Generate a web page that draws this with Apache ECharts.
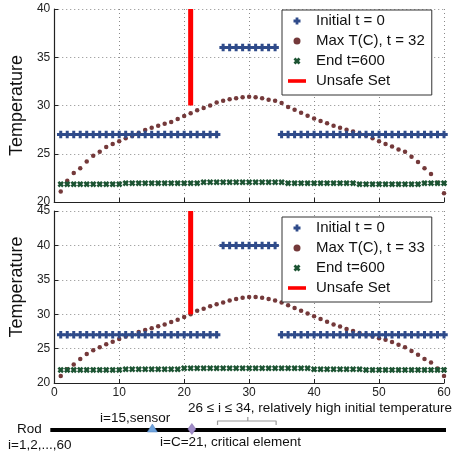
<!DOCTYPE html>
<html>
<head>
<meta charset="utf-8">
<script src="https://cdn.jsdelivr.net/npm/echarts@6/dist/echarts.min.js"></script>
<style>
  html, body { margin: 0; padding: 0; background: #fff; }
  #chart { width: 463px; height: 453px; }
</style>
</head>
<body>
<div id="chart"></div>
<script>
// rod element index i
const elements = [1, 2, 3, 4, 5, 6, 7, 8, 9, 10, 11, 12, 13, 14, 15, 16, 17, 18, 19, 20,
  21, 22, 23, 24, 25, 26, 27, 28, 29, 30, 31, 32, 33, 34, 35, 36, 37, 38, 39, 40,
  41, 42, 43, 44, 45, 46, 47, 48, 49, 50, 51, 52, 53, 54, 55, 56, 57, 58, 59, 60]

// upper panel (max at t = 32)
const initTop = [27, 27, 27, 27, 27, 27, 27, 27, 27, 27, 27, 27, 27, 27, 27, 27, 27, 27, 27, 27,
  27, 27, 27, 27, 27, 36, 36, 36, 36, 36, 36, 36, 36, 36, 27, 27, 27, 27, 27, 27,
  27, 27, 27, 27, 27, 27, 27, 27, 27, 27, 27, 27, 27, 27, 27, 27, 27, 27, 27, 27]
const maxTop = [21.1, 22.2, 23.0, 23.5, 24.2, 24.8, 25.2, 25.7, 26.0, 26.3,
  26.6, 26.85, 27.15, 27.45, 27.7, 27.9, 28.1, 28.3, 28.6, 28.9,
  29.2, 29.5, 29.75, 30.0, 30.3, 30.5, 30.65, 30.75, 30.85, 30.9,
  30.85, 30.75, 30.6, 30.5, 30.25, 29.85, 29.55, 29.25, 28.95, 28.65,
  28.4, 28.15, 27.9, 27.7, 27.5, 27.3, 27.1, 26.9, 26.6, 26.3,
  26.0, 25.75, 25.45, 25.2, 24.7, 24.15, 23.5, 22.9, 22.0, 20.9]
const endTop = [21.85, 21.85, 21.85, 21.85, 21.85, 21.85, 21.85, 21.85, 21.85, 21.85,
  21.95, 21.95, 21.95, 21.95, 21.95, 21.95, 21.95, 21.95, 21.95, 21.95,
  21.95, 21.95, 22.05, 22.05, 22.05, 22.05, 22.05, 22.05, 22.05, 22.05,
  22.05, 22.05, 22.05, 22.05, 22.05, 21.95, 21.95, 21.95, 21.95, 21.95,
  21.95, 21.95, 21.95, 21.95, 21.95, 21.95, 21.85, 21.85, 21.85, 21.85,
  21.85, 21.85, 21.85, 21.85, 21.85, 21.85, 21.95, 21.95, 21.95, 21.95]
const unsafeTop = [[21, 30], [21, 40]]

// lower panel (max at t = 33)
const initBot = [27, 27, 27, 27, 27, 27, 27, 27, 27, 27, 27, 27, 27, 27, 27, 27, 27, 27, 27, 27,
  27, 27, 27, 27, 27, 40, 40, 40, 40, 40, 40, 40, 40, 40, 27, 27, 27, 27, 27, 27,
  27, 27, 27, 27, 27, 27, 27, 27, 27, 27, 27, 27, 27, 27, 27, 27, 27, 27, 27, 27]
const maxBot = [21.0, 22.0, 22.7, 23.5, 24.2, 24.75, 25.2, 25.65, 26.0, 26.4,
  26.75, 27.0, 27.4, 27.7, 27.95, 28.25, 28.5, 28.85, 29.2, 29.6,
  30.0, 30.5, 30.8, 31.15, 31.45, 31.7, 32.0, 32.2, 32.4, 32.5,
  32.5, 32.4, 32.2, 32.0, 31.7, 31.3, 30.9, 30.5, 30.1, 29.7,
  29.3, 28.9, 28.5, 28.2, 27.85, 27.55, 27.25, 27.0, 26.75, 26.5,
  26.3, 25.95, 25.56, 25.2, 24.65, 24.1, 23.5, 22.97, 22.1, 21.0]
const endBot = [21.9, 21.9, 21.9, 21.9, 21.9, 21.9, 21.9, 21.9, 21.9, 21.9,
  22.0, 22.0, 22.0, 22.0, 22.0, 22.0, 22.0, 22.0, 22.0, 22.15,
  22.15, 22.15, 22.15, 22.15, 22.15, 22.15, 22.15, 22.15, 22.15, 22.15,
  22.15, 22.15, 22.15, 22.15, 22.15, 22.15, 22.15, 22.15, 22.15, 22.0,
  22.0, 22.0, 22.0, 22.0, 22.0, 22.0, 22.0, 21.9, 21.9, 21.9,
  21.9, 21.9, 21.9, 21.9, 21.9, 21.9, 21.9, 21.9, 21.9, 21.9]
const unsafeBot = [[21, 30], [21, 45]]

// rod sketch underneath (positions along the same 0..60 scale)
const rodLine = [[0.2, 0], [60.8, 0]]
const sensorPos = [[15.7, 0]]
const criticalPos = [[21.7, 0]]
const bracket = [[25.6, 0.25], [25.6, 0.45], [34.5, 0.45], [34.5, 0.25]]
const bracketTick = [[30.2, 0.45], [30.2, 0.65]]

const xTicks = [0, 60, 10]
const yTopTicks = [20, 40, 5]
const yBotTicks = [20, 45, 5]

const FONT = '"Liberation Sans", Arial, Helvetica, sans-serif'
const BLUE = '#2f4b8a'
const BROWN = '#74393a'
const GREEN = '#1d5433'
const PLUS = 'path://M3,0H7V3H10V7H7V10H3V7H0V3H3Z'
const CROSS = 'path://M2.8,0L5,2.2L7.2,0L10,2.8L7.8,5L10,7.2L7.2,10L5,7.8L2.8,10L0,7.2L2.2,5L0,2.8Z'
const BAR = 'path://M0,0H18V3.6H0Z'

const pairs = vals => elements.map((e, k) => [e, vals[k]])

const gridLine = { show: true, lineStyle: { color: '#8a8a8a', type: [1, 3], width: 1 } }

function xAxisFor (gridIndex, showLabels) {
  return {
    gridIndex,
    type: 'value',
    min: xTicks[0],
    max: xTicks[1],
    interval: xTicks[2],
    axisLine: { lineStyle: { color: '#222', width: 1.2 } },
    axisTick: { inside: true, length: 4, lineStyle: { color: '#222' } },
    axisLabel: { show: showLabels, fontSize: 12, color: '#222', fontFamily: FONT, margin: 4 },
    splitLine: gridLine
  }
}

function yAxisFor (gridIndex, ticks, namePad) {
  return {
    gridIndex,
    type: 'value',
    min: ticks[0],
    max: ticks[1],
    interval: ticks[2],
    name: 'Temperature',
    nameLocation: 'middle',
    nameGap: 15,
    nameTextStyle: { fontSize: 18, color: '#111', fontFamily: FONT, padding: namePad },
    axisLine: { show: true, lineStyle: { color: '#222', width: 1.2 } },
    axisTick: { show: true, inside: true, length: 4, lineStyle: { color: '#222' } },
    axisLabel: { fontSize: 12, color: '#222', fontFamily: FONT, margin: 4 },
    splitLine: gridLine
  }
}

function panelSeries (idx, init, max, end, unsafe, maxName) {
  return [
    {
      name: 'Initial t = 0', type: 'scatter', xAxisIndex: idx, yAxisIndex: idx,
      symbol: PLUS, symbolSize: 7.5, itemStyle: { color: BLUE, opacity: 1 },
      data: pairs(init), z: 3
    },
    {
      name: maxName, type: 'scatter', xAxisIndex: idx, yAxisIndex: idx,
      symbol: 'circle', symbolSize: 4.5, itemStyle: { color: BROWN, opacity: 1 },
      data: pairs(max), z: 2
    },
    {
      name: 'End t=600', type: 'scatter', xAxisIndex: idx, yAxisIndex: idx,
      symbol: CROSS, symbolSize: 6.5, itemStyle: { color: GREEN, opacity: 1 },
      data: pairs(end), z: 4
    },
    {
      name: 'Unsafe Set', type: 'line', xAxisIndex: idx, yAxisIndex: idx,
      symbol: 'none', lineStyle: { color: '#ff0000', width: 5 }, itemStyle: { color: '#ff0000' },
      data: unsafe, z: 5
    }
  ]
}

function legendFor (top, maxName) {
  return {
    orient: 'vertical',
    left: 282,
    top,
    padding: [2, 7, 5, 6],
    itemWidth: 18,
    itemHeight: 7,
    itemGap: 2,
    backgroundColor: '#fff',
    borderColor: '#333',
    borderWidth: 1,
    z: 10,
    selectedMode: false,
    textStyle: { fontSize: 15, lineHeight: 18, color: '#111', fontFamily: FONT, padding: [0, 0, 0, 5] },
    data: ['Initial t = 0', maxName, 'End t=600', { name: 'Unsafe Set', icon: BAR }]
  }
}

const chart = echarts.init(document.getElementById('chart'))

chart.setOption({
  animation: false,
  backgroundColor: '#fff',
  grid: [
    { left: 49, right: 19, top: 9, height: 193 },
    { left: 49, right: 19, top: 211, height: 172 },
    { left: 49, right: 19, top: 410, height: 40 }
  ],
  xAxis: [
    xAxisFor(0, false),
    xAxisFor(1, true),
    { gridIndex: 2, type: 'value', min: xTicks[0], max: xTicks[1], show: false }
  ],
  yAxis: [
    yAxisFor(0, yTopTicks, 0),
    yAxisFor(1, yBotTicks, [0, 0, 0, 20]),
    { gridIndex: 2, type: 'value', min: -1, max: 1, show: false }
  ],
  legend: [
    legendFor(10, 'Max T(C), t = 32'),
    legendFor(217, 'Max T(C), t = 33')
  ],
  series: [
    ...panelSeries(0, initTop, maxTop, endTop, unsafeTop, 'Max T(C), t = 32'),
    ...panelSeries(1, initBot, maxBot, endBot, unsafeBot, 'Max T(C), t = 33'),
    {
      type: 'line', xAxisIndex: 2, yAxisIndex: 2, symbol: 'none', silent: true,
      lineStyle: { color: '#000', width: 4 }, data: rodLine
    },
    {
      type: 'line', xAxisIndex: 2, yAxisIndex: 2, symbol: 'none', silent: true,
      lineStyle: { color: '#9a9a9a', width: 1.2 }, data: bracket
    },
    {
      type: 'line', xAxisIndex: 2, yAxisIndex: 2, symbol: 'none', silent: true,
      lineStyle: { color: '#9a9a9a', width: 1.2 }, data: bracketTick
    },
    {
      type: 'scatter', xAxisIndex: 2, yAxisIndex: 2, silent: true,
      symbol: 'triangle', symbolSize: [10, 8], symbolOffset: [0, -2],
      itemStyle: { color: '#6fa3dc', borderColor: '#4a7fbf', borderWidth: 0.5, opacity: 1 }, data: sensorPos, z: 5
    },
    {
      type: 'scatter', xAxisIndex: 2, yAxisIndex: 2, silent: true,
      symbol: 'diamond', symbolSize: [8, 11], symbolOffset: [0, -1],
      itemStyle: { color: '#a08cc8', borderColor: '#7f6aa8', borderWidth: 0.5, opacity: 1 }, data: criticalPos, z: 5
    }
  ],
  graphic: [
    { type: 'text', x: 188, y: 408, style: { text: '26 \u2264 i \u2264 34, relatively high initial temperature', fontSize: 13.5, fontFamily: FONT, fill: '#111', verticalAlign: 'middle' } },
    { type: 'text', x: 100, y: 418, style: { text: 'i=15,sensor', fontSize: 13.5, fontFamily: FONT, fill: '#111', verticalAlign: 'middle' } },
    { type: 'text', x: 17, y: 429, style: { text: 'Rod', fontSize: 13.5, fontFamily: FONT, fill: '#111', verticalAlign: 'middle' } },
    { type: 'text', x: 160, y: 442, style: { text: 'i=C=21, critical element', fontSize: 13.5, fontFamily: FONT, fill: '#111', verticalAlign: 'middle' } },
    { type: 'text', x: 8, y: 445, style: { text: 'i=1,2,...,60', fontSize: 13.5, fontFamily: FONT, fill: '#111', verticalAlign: 'middle' } }
  ]
})
</script>
</body>
</html>
